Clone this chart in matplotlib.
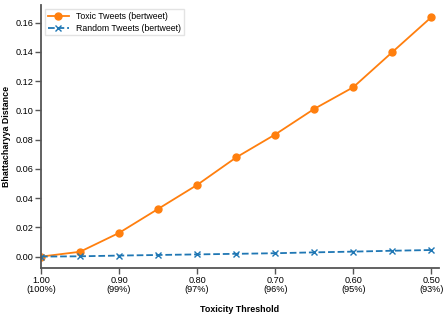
import matplotlib
matplotlib.use("Agg")
import matplotlib.pyplot as plt

plt.rcParams['font.family'] = ['Liberation Sans', 'DejaVu Sans']

thresholds = [1.00, 0.95, 0.90, 0.85, 0.80, 0.75, 0.70, 0.65, 0.60, 0.55, 0.50]
toxic = [0.0, 0.0033, 0.0162, 0.0326, 0.0490, 0.0678, 0.0835, 0.1010, 0.1158, 0.1398, 0.1637]
random_ = [0.0, 0.0002, 0.0007, 0.0011, 0.0015, 0.0019, 0.0023, 0.0029, 0.0034, 0.0040, 0.0045]
tick_pos = [1.00, 0.90, 0.80, 0.70, 0.60, 0.50]
tick_labels = ["1.00\n(100%)", "0.90\n(99%)", "0.80\n(97%)", "0.70\n(96%)", "0.60\n(95%)", "0.50\n(93%)"]

fig = plt.figure(figsize=(4.48, 3.2), dpi=100)
ax = fig.add_axes([0.0915, 0.1625, 0.8885, 0.8215])

ax.plot(thresholds, toxic, color='tab:orange', marker='o', markersize=5, linewidth=1.3,
        label='Toxic Tweets (bertweet)')
ax.plot(thresholds, random_, color='tab:blue', marker='x', markersize=5, linewidth=1.3,
        linestyle='--', label='Random Tweets (bertweet)')

ax.set_xlim(1.0, 0.49)
ax.set_ylim(-0.0078, 0.172)
ax.set_xticks(tick_pos)
ax.set_xticklabels(tick_labels, linespacing=1.0)
ax.set_yticks([0.0, 0.02, 0.04, 0.06, 0.08, 0.10, 0.12, 0.14, 0.16])
ax.set_yticklabels([f"{v:.2f}" for v in ax.get_yticks()])
ax.tick_params(labelsize=6.6, length=4, width=1, color='#555555', direction='out', pad=1.5)

for s in ['top', 'right']:
    ax.spines[s].set_visible(False)
for s in ['left', 'bottom']:
    ax.spines[s].set_color('#555555')
    ax.spines[s].set_linewidth(1.3)

ax.set_xlabel('Toxicity Threshold', fontsize=6.4, fontweight='bold', labelpad=8.5)
ax.set_ylabel('Bhattacharyya Distance', fontsize=6.4, fontweight='bold', labelpad=3)

leg = ax.legend(loc='upper left', fontsize=6.3, frameon=True, fancybox=False,
                edgecolor='#dddddd', borderpad=0.3, handlelength=2.4, labelspacing=0.3)

fig.savefig('out.png', dpi=100)
